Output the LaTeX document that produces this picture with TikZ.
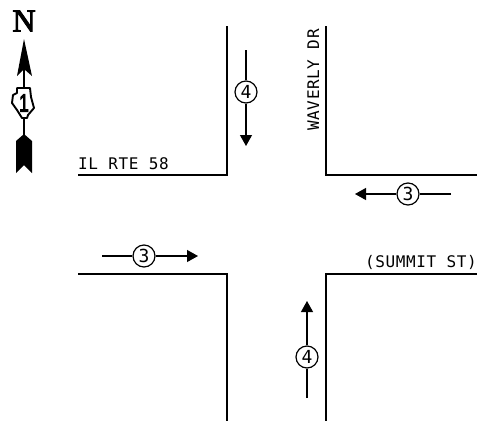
\documentclass[tikz,border=0pt]{standalone}
\usepackage{fontspec}
\setmainfont{DejaVu Sans Mono}
\newfontfamily\northfont[FakeBold=3]{Liberation Serif}
\newfontfamily\shieldfont[FakeBold=4]{Liberation Sans}
\usetikzlibrary{arrows.meta}
\tikzset{
    curb/.style={line width=1.5pt},
    lanecount/.style={circle, draw, line width=1.2pt, fill=white, minimum size=22pt, inner sep=0pt, font=\fontsize{18}{18}\selectfont},
    lanearrow/.style={line width=1.2pt, -{Triangle[length=11pt, width=12pt]}},
    lanetail/.style={line width=1.2pt},
    streetname/.style={inner sep=0pt, font=\fontsize{16}{16}\selectfont\addfontfeature{LetterSpace=4}}
}
\begin{document}
\begin{tikzpicture}[x=1pt, y=-1pt]
    \useasboundingbox (0, 0) rectangle (477, 421);

    \draw[curb] (227, 26) -- (227, 175) -- (78, 175);
    \draw[curb] (326, 26) -- (326, 175) -- (477, 175);
    \draw[curb] (78, 274) -- (227, 274) -- (227, 421);
    \draw[curb] (477, 274) -- (326, 274) -- (326, 421);

    \node[streetname, anchor=base west] (rte) at (78, 169) {IL RTE 58};
    \node[streetname, anchor=base east] (summit) at (477, 267) {(SUMMIT ST)};
    \node[streetname, rotate=90, anchor=base west] (waverly) at (319, 131) {WAVERLY DR};

    \node[lanecount] (southbound) at (246, 92) {4};
    \coordinate (southtail) at (246, 50);
    \coordinate (southhead) at (246, 146);
    \draw[lanetail] (southtail) -- (southbound);
    \draw[lanearrow] (southbound) -- (southhead);

    \node[lanecount] (northbound) at (307, 357) {4};
    \coordinate (northtail) at (307, 398);
    \coordinate (northhead) at (307, 301);
    \draw[lanetail] (northtail) -- (northbound);
    \draw[lanearrow] (northbound) -- (northhead);

    \node[lanecount] (westbound) at (408, 194) {3};
    \coordinate (westtail) at (451, 194);
    \coordinate (westhead) at (355, 194);
    \draw[lanetail] (westtail) -- (westbound);
    \draw[lanearrow] (westbound) -- (westhead);

    \node[lanecount] (eastbound) at (144, 256) {3};
    \coordinate (easttail) at (102, 256);
    \coordinate (easthead) at (198, 256);
    \draw[lanetail] (easttail) -- (eastbound);
    \draw[lanearrow] (eastbound) -- (easthead);

    % north arrow
    \draw[line width=1.5pt] (24, 69) -- (24, 136);
    \fill (24, 39) -- (32, 76) -- (24, 69) -- (17, 76) -- cycle;
    \fill (24, 134) -- (32, 141) -- (32, 173) -- (24, 165) -- (16, 173) -- (16, 141) -- cycle;
    \draw[line width=1.9pt, fill=white, line join=round] (17, 88) -- (30, 88) -- (31, 97) -- (34, 108) -- (28, 115)
        -- (27, 118) -- (22, 118) -- (17, 110) -- (12, 103) -- (13, 95) -- (17, 93) -- cycle;
    \node[inner sep=0pt, xscale=0.7, font=\shieldfont\fontsize{25}{25}\selectfont] (shield) at (24, 103) {1};
    \node[inner sep=0pt, font=\northfont\fontsize{32}{32}\selectfont] (north) at (24, 21) {N};
\end{tikzpicture}
\end{document}
